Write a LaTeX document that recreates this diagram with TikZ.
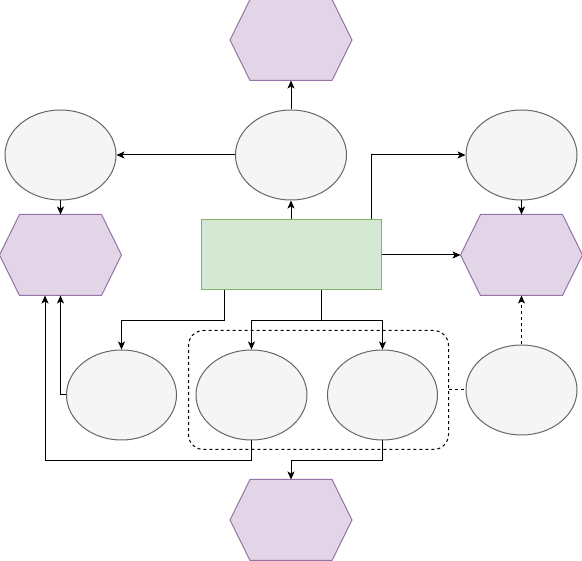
\documentclass[tikz,border=0pt]{standalone}
\usepackage{tikz}
\usetikzlibrary{shapes.geometric,arrows.meta}

\definecolor{ellfill}{HTML}{F5F5F5}
\definecolor{ellline}{HTML}{666666}
\definecolor{hexfill}{HTML}{E1D5E7}
\definecolor{hexline}{HTML}{9673A6}
\definecolor{boxfill}{HTML}{D5E8D4}
\definecolor{boxline}{HTML}{82B366}

\begin{document}
\begin{tikzpicture}[x=1pt,y=-1pt,line width=1pt,
  ell/.style={ellipse,draw=ellline,fill=ellfill,minimum width=111pt,minimum height=90pt,inner sep=0pt},
  hex/.style={inner sep=0pt,minimum width=121pt,minimum height=80pt},
  arr/.style={-{Stealth[length=8pt,width=7pt,inset=2pt]}},
  dashline/.style={dash pattern=on 3pt off 3pt}]
  \useasboundingbox (0,0) rectangle (582,561);
  \node[hex] (hexT) at (291,40) {};
  \node[ell] (elC) at (291,155) {};
  \node[ell] (elL) at (60.5,155) {};
  \node[ell] (elR) at (521.5,155) {};
  \node[hex] (hexL) at (60.5,255) {};
  \node[hex] (hexR) at (521.5,255) {};
  \node[draw=boxline,fill=boxfill,minimum width=180pt,minimum height=70pt,inner sep=0pt] (core) at (291,255) {};
  \node[ell,minimum width=110pt] (elA) at (121.5,395) {};
  \node[ell] (elB) at (251.5,395) {};
  \node[ell,minimum width=110pt] (elD) at (382.5,395) {};
  \node[ell] (elE) at (521.5,390) {};
  \node[draw,dashline,rounded corners=15pt,minimum width=260pt,minimum height=119pt] (group) at (318.5,390) {};
  \node[hex] (hexB) at (291,520) {};
  \foreach \h in {hexT,hexL,hexR,hexB}
    \draw[draw=hexline,fill=hexfill] (\h.west) -- ([xshift=20]\h.north west) -- ([xshift=-20]\h.north east)
      -- (\h.east) -- ([xshift=-20]\h.south east) -- ([xshift=20]\h.south west) -- cycle;
  % top part
  \draw[arr] (core.north) -- (elC.south);
  \draw[arr] (elC.north) -- (hexT.south);
  \draw[arr] (elC.west) -- (elL.east);
  \draw[arr] (elL.south) -- (hexL.north);
  \draw[arr] (elR.south) -- (hexR.north);
  \draw[arr] (core.east) -- (hexR.west);
  \draw[arr] ([xshift=-10]core.north east) |- (elR.west);
  % lower part
  \draw[arr] ([xshift=-67]core.south) -- ++(0,30) -| (elA.north);
  \foreach \e in {elB,elD}
    \draw[arr] ([xshift=30]core.south) -- ++(0,30) -| (\e.north);
  \draw[arr] (elA.west) -| (hexL.south);
  \draw[arr] (elB.south) -- ++(0,20) -| ([xshift=-15.5]hexL.south);
  \draw[arr] (elD.south) -- ++(0,20) -| (hexB.north);
  \draw[arr,dashline] (elE.north) -- (hexR.south);
  \draw[dashline] (group.east) -- (elE.west);
\end{tikzpicture}
\end{document}
